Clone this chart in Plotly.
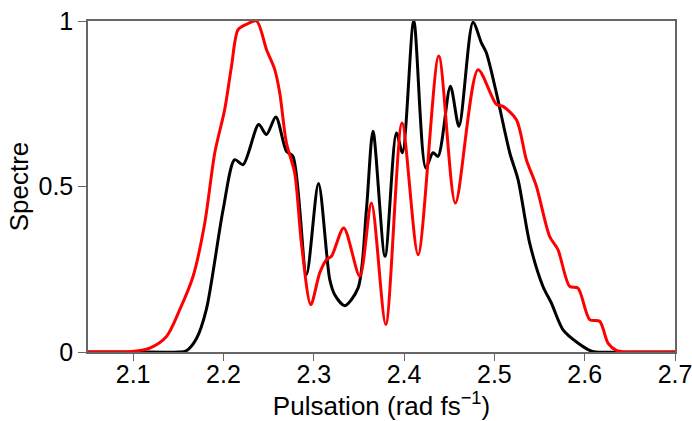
import plotly.graph_objects as go

# Black spectrum
black_x = [2.05, 2.10, 2.150, 2.159, 2.170, 2.181, 2.1996, 2.2125, 2.2217, 2.239, 2.2476, 2.258, 2.2698, 2.277,
           2.2919, 2.3052, 2.3177, 2.3232, 2.3343, 2.349, 2.3583, 2.3656, 2.3789, 2.3915, 2.3982,
           2.4107, 2.424, 2.432, 2.4376, 2.4513, 2.4608, 2.4763, 2.4856, 2.4911, 2.5022, 2.517,
           2.5262, 2.5391, 2.5538, 2.5631, 2.576, 2.5925, 2.6055, 2.612, 2.65, 2.70]
black_y = [0.0, 0.0, 0.0, 0.004, 0.04, 0.128, 0.43, 0.581, 0.566, 0.687, 0.657, 0.71, 0.606, 0.591,
           0.234, 0.509, 0.219, 0.173, 0.14, 0.193, 0.43, 0.667, 0.289, 0.662, 0.602,
           1.0, 0.556, 0.602, 0.591, 0.803, 0.682, 0.996, 0.934, 0.904, 0.783, 0.602,
           0.521, 0.329, 0.198, 0.148, 0.067, 0.027, 0.005, 0.0, 0.0, 0.0]

# Red spectrum
red_x = [2.05, 2.08, 2.096, 2.1184, 2.1369, 2.1516, 2.1664, 2.1793, 2.1904, 2.2014, 2.2089, 2.2162,
         2.2255, 2.2366, 2.2476, 2.2568, 2.2623, 2.2697, 2.2789, 2.2863, 2.2967, 2.3066, 2.314,
         2.3196, 2.3332, 2.3509, 2.3638, 2.3797, 2.3977, 2.4155, 2.4384, 2.4568, 2.4819, 2.5022,
         2.5095, 2.5244, 2.5354, 2.5465, 2.5612, 2.5704, 2.5834, 2.5926, 2.6055, 2.6166, 2.6258,
         2.635, 2.645, 2.70]
red_y = [0.0, 0.0, 0.001, 0.012, 0.047, 0.128, 0.229, 0.39, 0.602, 0.733, 0.863, 0.974,
         0.99, 1.0, 0.914, 0.853, 0.783, 0.632, 0.541, 0.329, 0.143, 0.239, 0.279,
         0.289, 0.375, 0.229, 0.45, 0.083, 0.692, 0.294, 0.894, 0.45, 0.853, 0.748,
         0.742, 0.702, 0.581, 0.501, 0.349, 0.309, 0.198, 0.193, 0.098, 0.093, 0.027,
         0.005, 0.0, 0.0]

x_ticks = [2.1, 2.2, 2.3, 2.4, 2.5, 2.6, 2.7]
y_ticks = [0, 0.5, 1]
y_tick_labels = ["0", "0.5", "1"]

fig = go.Figure()
fig.add_trace(go.Scatter(x=black_x, y=black_y, mode="lines",
                         line=dict(color="black", width=3, shape="spline", smoothing=0.8)))
fig.add_trace(go.Scatter(x=red_x, y=red_y, mode="lines",
                         line=dict(color="#ff0000", width=3, shape="spline", smoothing=0.8)))

font = "Liberation Sans, Arial, sans-serif"
fig.update_layout(
    width=692, height=421,
    margin=dict(l=88, r=17, t=21, b=69),
    paper_bgcolor="white", plot_bgcolor="white",
    showlegend=False,
    font=dict(family=font, size=26, color="black"),
    xaxis=dict(range=[2.05, 2.7], tickvals=x_ticks, ticks="outside", ticklen=7,
               tickcolor="#666", linecolor="#666", linewidth=1.5, mirror=True,
               showgrid=False, zeroline=False, automargin=False,
               ticklabeloverflow="allow", ticklabelstandoff=-8,
               title=dict(text="Pulsation (rad fs<sup>−1</sup>)", standoff=11, font=dict(size=26)),
               tickfont=dict(size=25)),
    yaxis=dict(range=[0, 1], tickvals=y_ticks, ticktext=y_tick_labels, ticks="outside", ticklen=8,
               tickcolor="#666", linecolor="#666", linewidth=1.5, mirror=True,
               showgrid=False, zeroline=False, automargin=False,
               ticklabeloverflow="allow",
               title=dict(text="Spectre", standoff=2, font=dict(size=26)),
               tickfont=dict(size=25)),
)
# remove the page's default body margin so the figure fills the window exactly
fig.write_html("out.html", config={"displayModeBar": False},
               post_script="document.body.style.margin='0';document.body.style.overflow='hidden';")
